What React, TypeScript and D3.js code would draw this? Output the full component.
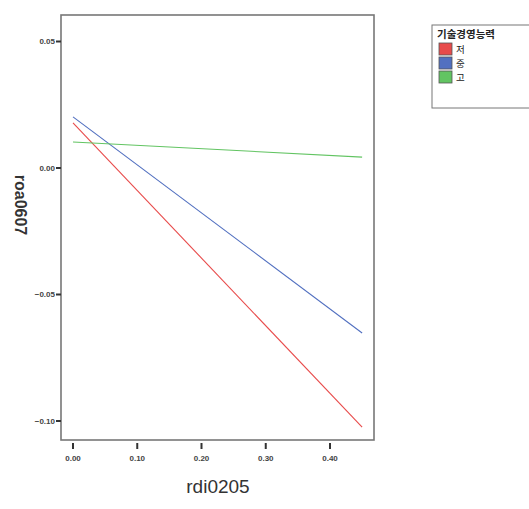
import React from 'react'
import * as d3 from 'd3'

// groups (legend) and fitted line end points
const groups = ['저', '중', '고']
const groupColors = ['#e84b4b', '#5270c0', '#62c462']
const xStart = [0, 0, 0]
const xEnd = [0.45, 0.45, 0.45]
const yStart = [0.0178, 0.0202, 0.0103]
const yEnd = [-0.1024, -0.0652, 0.0043]

const xTicks = [0, 0.1, 0.2, 0.3, 0.4]
const yTicks = [0.05, 0, -0.05, -0.1]
const legendTitle = '기술경영능력'
const xLabel = 'rdi0205'
const yLabel = 'roa0607'

export default function App() {
    const width = 529
    const height = 509
    const [left, top, right, bottom] = [61, 15, 374, 440]

    const x = d3.scaleLinear().domain([0, 0.4]).range([73, 330])
    const y = d3.scaleLinear().domain([0, -0.1]).range([168, 421])
    const line = d3
        .line<[number, number]>()
        .x(d => x(d[0]))
        .y(d => y(d[1]))

    const fmt = d3.format('.2f')

    return (
        <svg
            width={width}
            height={height}
            style={{ position: 'absolute', left: 0, top: 0, background: '#fff' }}
            fontFamily='Liberation Sans, Arial, sans-serif'
        >
            {/* plot frame */}
            <rect
                x={left}
                y={top}
                width={right - left}
                height={bottom - top}
                fill='#fff'
                stroke='#777'
                strokeWidth={1.6}
            />

            {groups.map((g, i) => (
                <path
                    key={g}
                    d={line([
                        [xStart[i], yStart[i]],
                        [xEnd[i], yEnd[i]],
                    ]) || ''}
                    fill='none'
                    stroke={groupColors[i]}
                    strokeWidth={1.1}
                />
            ))}

            {/* y axis */}
            <g fontSize={8} fill='#444' textAnchor='end' fontWeight='bold'>
                {yTicks.map(t => (
                    <g key={t} transform={`translate(0,${y(t)})`}>
                        <line x1={left - 5} x2={left} stroke='#333' strokeWidth={2} />
                        <text x={left - 6} dy='0.35em'>
                            {fmt(t)}
                        </text>
                    </g>
                ))}
            </g>

            {/* x axis */}
            <g fontSize={8} fill='#444' textAnchor='middle' fontWeight='bold'>
                {xTicks.map(t => (
                    <g key={t} transform={`translate(${x(t)},0)`}>
                        <line y1={bottom + 3} y2={bottom + 9} stroke='#333' strokeWidth={2} />
                        <text y={bottom + 21}>{fmt(t)}</text>
                    </g>
                ))}
            </g>

            <text
                x={218}
                y={493}
                fontSize={19}
                textAnchor='middle'
                fill='#333'
                fontFamily='Liberation Sans Narrow, Liberation Sans, sans-serif'
            >
                {xLabel}
            </text>
            <text
                transform='translate(15,205) rotate(90)'
                fontSize={16}
                fontWeight='bold'
                textAnchor='middle'
                fill='#333'
            >
                {yLabel}
            </text>

            {/* legend */}
            <g>
                <rect x={432} y={25} width={110} height={83} fill='#fff' stroke='#777' strokeWidth={1} />
                <text
                    x={437}
                    y={38}
                    fontSize={10.5}
                    fontWeight='bold'
                    fill='#222'
                    fontFamily='Noto Sans CJK KR, sans-serif'
                >
                    {legendTitle}
                </text>
                {groups.map((g, i) => (
                    <g key={g} transform={`translate(439,${43 + i * 14})`}>
                        <rect width={13} height={12} fill={groupColors[i]} stroke='#555' strokeWidth={0.8} />
                        <text
                            x={17}
                            y={10}
                            fontSize={9.5}
                            fill='#222'
                            fontFamily='Noto Sans CJK KR, sans-serif'
                        >
                            {g}
                        </text>
                    </g>
                ))}
            </g>
        </svg>
    )
}
